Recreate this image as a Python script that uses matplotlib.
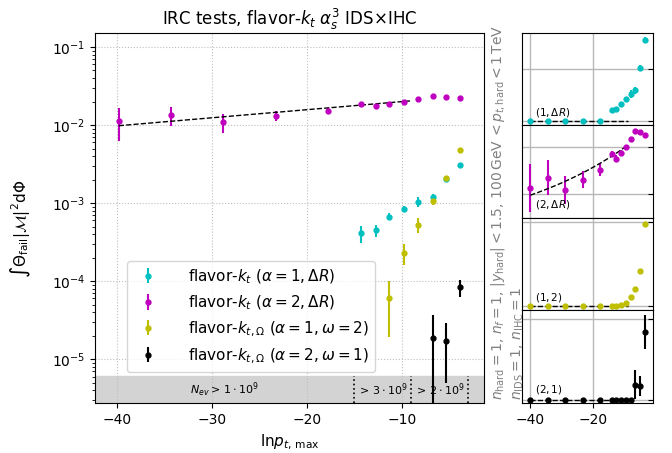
import numpy as np
import matplotlib.pyplot as plt

# ln p_t,max values of the scan
lnpt = [-39.8, -34.3, -28.8, -23.3, -17.8, -14.3, -12.8, -11.4, -9.8, -8.3, -6.8, -5.4, -3.9]

# flavor-kt (alpha=1, dR)
y_a1_dr = [0, 0, 0, 0, 0, 4.1e-4, 4.5e-4, 6.7e-4, 8.4e-4, 1.04e-3, 1.18e-3, 2.03e-3, 3.12e-3]
e_a1_dr = [0, 0, 0, 0, 0, 1.0e-4, 0.8e-4, 0.7e-4, 0.8e-4, 1.6e-4, 1.3e-4, 1.2e-4, 0.9e-4]
# flavor-kt (alpha=2, dR)
y_a2_dr = [0.0113, 0.0135, 0.0109, 0.0131, 0.0152, 0.0185, 0.0175, 0.0188, 0.0200, 0.0216, 0.0234, 0.0231, 0.0225]
e_a2_dr = [0.0051, 0.0037, 0.0030, 0.0018, 0.0014, 0.0007, 0.0008, 0.0005, 0.0003, 0.0002, 0.0002, 0.0002, 0.0002]
# flavor-kt,Omega (alpha=1, omega=2)
y_a1_w2 = [0, 0, 0, 0, 0, 0, 0, 6.0e-5, 2.29e-4, 5.27e-4, 1.05e-3, 2.09e-3, 4.85e-3]
e_a1_w2 = [0, 0, 0, 0, 0, 0, 0, 4.1e-5, 7e-5, 1.15e-4, 1.0e-4, 6e-5, 4e-5]
# flavor-kt,Omega (alpha=2, omega=1)
y_a2_w1 = [0, 0, 0, 0, 0, 0, 0, 0, 0, 0, 1.85e-5, 1.69e-5, 8.3e-5]
e_a2_w1 = [0, 0, 0, 0, 0, 0, 0, 0, 0, 0, 1.8e-5, 1.2e-5, 2.1e-5]

# fitted asymptotic behaviour (end points of the fit line)
fit_x = [-39.8, -9.1]
fit_a1_dr = [0.0, 0.0]
fit_a2_dr = [0.0098, 0.0204]
fit_a1_w2 = [0.0, 0.0]
fit_a2_w1 = [0.0, 0.0]

# statistics regions
region_edges = [-42.3, -15.1, -9.08, -3.08]
region_text = [r'$N_{ev} > \,1\cdot10^9$', r'$>\,3\cdot10^9$', r'$>\,2\cdot10^9$']

series = [
    (y_a1_dr, e_a1_dr, fit_a1_dr, 'c', r'flavor-$k_t$ $(\alpha = 1, \Delta R)$', r'$(1, \Delta R)$'),
    (y_a2_dr, e_a2_dr, fit_a2_dr, 'm', r'flavor-$k_t$ $(\alpha = 2, \Delta R)$', r'$(2, \Delta R)$'),
    (y_a1_w2, e_a1_w2, fit_a1_w2, 'y', r'flavor-$k_{t,\Omega}$ $(\alpha = 1, \omega = 2)$', r'$(1, 2)$'),
    (y_a2_w1, e_a2_w1, fit_a2_w1, 'k', r'flavor-$k_{t,\Omega}$ $(\alpha = 2, \omega = 1)$', r'$(2, 1)$'),
]
panel_ylims = [(-0.00017, 0.00337), (0.0050, 0.0245), (-0.00024, 0.00522), (-4.1e-6, 1.1e-4)]
panel_yticks = [[0, 0.002], [0.01, 0.02], [0, 0.005], [0, 1e-4]]

xlim = (-42.3, -1.4)
ylim = (2.75e-6, 0.151)

fig = plt.figure(figsize=(6.72, 4.53), dpi=100)
ax = fig.add_axes([0.1414, 0.1104, 0.5788, 0.8168])

x = np.array(lnpt)
for y, e, fit, col, lab, short in series:
    y = np.array(y)
    e = np.array(e)
    ok = y > 0
    ax.errorbar(x[ok], y[ok], yerr=e[ok], fmt='o', color=col, ms=3.5, label=lab)

# fit of the alpha=2 dR curve (straight in log y)
fx = np.linspace(fit_x[0], fit_x[1], 50)
ax.plot(fx, np.geomspace(fit_a2_dr[0], fit_a2_dr[1], 50), 'k--', lw=1)

ax.set_yscale('log')
ax.set_xlim(*xlim)
ax.set_ylim(*ylim)

band_top = 6.1e-6
ax.axhspan(ylim[0], band_top, color='lightgray', zorder=0)
ax.vlines(region_edges[1:], ylim[0], band_top, colors='k', linestyles=':', lw=1.2)
ymid = np.sqrt(ylim[0] * band_top)
for i, t in enumerate(region_text):
    xc = 0.5 * (region_edges[i] + region_edges[i + 1])
    ax.text(xc, ymid, t, ha='center', va='center', fontsize=8)

ax.grid(True, which='major', ls=':', color='0.75', lw=0.8)
ax.set_xticks([-40, -30, -20, -10])
ax.set_xlabel(r'$\mathrm{ln}p_{t,\,\mathrm{max}}$', fontsize=11)
ax.set_ylabel(r'$\int \Theta_{\rm fail} |\mathcal{M}|^2 {\rm d}\Phi$', fontsize=11)
ax.yaxis.set_label_coords(-0.16, 0.47)
ax.set_title(r'IRC tests, flavor-$k_t$ $\alpha_s^3$ IDS$\times$IHC', fontsize=12)
ax.legend(loc='lower left', bbox_to_anchor=(0.081, 0.084), borderaxespad=0,
          fontsize=11, handletextpad=1.6)

# small linear panels on the right
h = 0.8168 / 4
for k, (y, e, fit, col, lab, short) in enumerate(series):
    bottom = 0.1104 + (3 - k) * h
    pa = fig.add_axes([0.7772, bottom, 0.1941, h])
    pa.errorbar(x, y, yerr=e, fmt='o', color=col, ms=3.5)
    if fit[0] > 0:
        pa.plot(fx, np.geomspace(fit[0], fit[1], 50), 'k--', lw=1)
    else:
        pa.plot(fit_x, fit, 'k--', lw=1)
    pa.set_xlim(*xlim)
    pa.set_ylim(*panel_ylims[k])
    pa.set_yticks(panel_yticks[k])
    pa.set_xticks([-40, -20])
    pa.yaxis.tick_right()
    pa.tick_params(axis='y', direction='in', labelright=False)
    if k < 3:
        pa.tick_params(axis='x', labelbottom=False)
    pa.grid(True, color='0.72', lw=1)
    pa.text(0.1, 0.145, short, transform=pa.transAxes, fontsize=7.5, va='center')

fig.text(489 / 672, (453 - 400) / 453,
         r'$n_{\rm hard} = 1$, $n_f = 1$, $|y_{\rm hard}| < 1.5$, $100\,$GeV$\, < p_{t,\rm hard} < 1\,$TeV'
         + '\n' + r'$n_{\rm IDS} = 1$, $n_{\rm IHC} = 1$',
         rotation=90, ha='left', va='bottom', color='gray', fontsize=10)

fig.savefig('out.png', dpi=100)
